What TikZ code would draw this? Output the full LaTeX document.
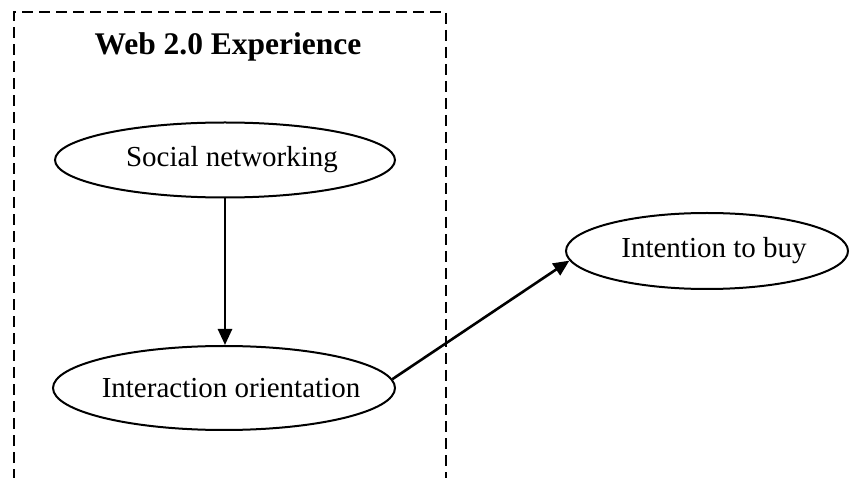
\documentclass[tikz,border=0pt]{standalone}
\usepackage{fontspec}
\setmainfont{Liberation Serif}
\usetikzlibrary{shapes.geometric,arrows.meta}
% label of fixed-size ellipse, set a little right of centre
\newcommand{\ctlabel}[1]{\makebox[0pt]{\hspace{14pt}#1}}
\begin{document}
\begin{tikzpicture}[x=1pt,y=-1pt,
  construct/.style={ellipse,draw,line width=2pt,inner sep=0pt,font=\fontsize{29}{34}\selectfont},
  link/.style={line width=2.6pt,-{Triangle[length=16pt,width=14pt]}},
  groupbox/.style={line width=2pt,dash pattern=on 11pt off 6pt}]
\useasboundingbox (0,0) rectangle (852,478);
% dashed group frame, open at the bottom
\coordinate (bl) at (14,480);
\coordinate (tl) at (14,12);
\coordinate (tr) at (446,12);
\coordinate (br) at (446,480);
\draw[groupbox] (bl) -- (tl) -- (tr) -- (br);
\node (title) at (228,47) {\fontsize{31.5}{36}\selectfont\bfseries Web 2.0 Experience};
% constructs
\node[construct,minimum width=340pt,minimum height=75pt] (sn) at (225,160) {\ctlabel{Social networking}};
\node[construct,minimum width=342pt,minimum height=84pt] (io) at (224,388) {\ctlabel{Interaction orientation}};
\node[construct,minimum width=282pt,minimum height=76pt] (ib) at (707,251) {\ctlabel{Intention to buy}};
% paths
\draw[link] (sn) -- (sn|-io.north);
\draw[link] (io.3) -- (ib.184);
\end{tikzpicture}
\end{document}
